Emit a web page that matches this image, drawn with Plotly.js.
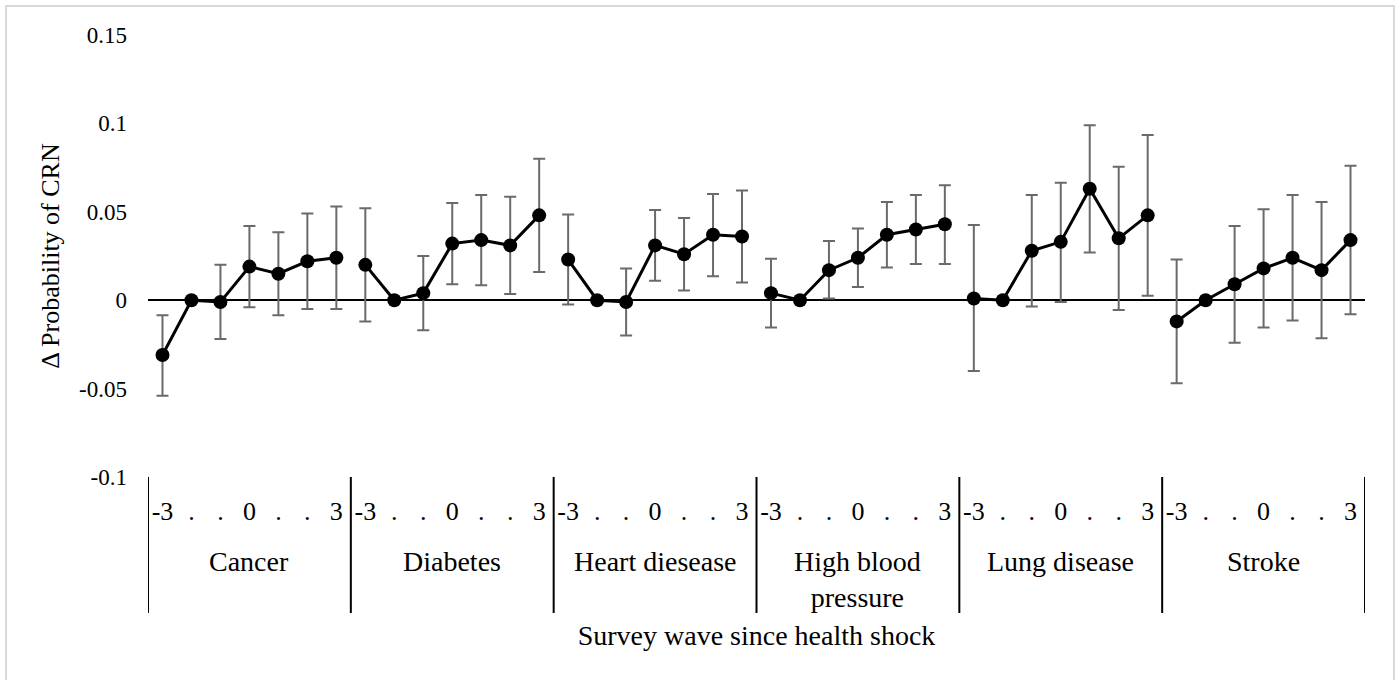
<!DOCTYPE html>
<html>
<head>
<meta charset="utf-8">
<script src="https://cdn.plot.ly/plotly-3.0.1.min.js"></script>
<style>
  html, body { margin: 0; padding: 0; background: #ffffff; }
  #chart { width: 1400px; height: 680px; }
  #frame { position: absolute; left: 5px; top: 5px; width: 1386px; height: 700px;
           border: 2px solid #d9d9d9; pointer-events: none; }
</style>
</head>
<body>
<div id="chart"></div>
<div id="frame"></div>
<script>
// ---- Data ----
const diseases = ['Cancer', 'Diabetes', 'Heart diesease', 'High blood<br>pressure', 'Lung disease', 'Stroke'];
const waveLabels = ['-3', '.', '.', '0', '.', '.', '3'];
const yTickVals = [-0.1, -0.05, 0, 0.05, 0.1, 0.15];
const yTickText = ['-0.1', '-0.05', '0', '0.05', '0.1', '0.15'];

const cancerEst  = [-0.031, 0, -0.001, 0.019, 0.015, 0.022, 0.024];
const cancerLow  = [-0.054, 0, -0.022, -0.004, -0.0085, -0.005, -0.005];
const cancerHigh = [-0.0085, 0, 0.020, 0.042, 0.0385, 0.049, 0.053];

const diabetesEst  = [0.020, 0, 0.004, 0.032, 0.034, 0.031, 0.048];
const diabetesLow  = [-0.012, 0, -0.017, 0.009, 0.0085, 0.0035, 0.016];
const diabetesHigh = [0.052, 0, 0.025, 0.055, 0.0595, 0.0585, 0.080];

const heartEst  = [0.023, 0, -0.001, 0.031, 0.026, 0.037, 0.036];
const heartLow  = [-0.0025, 0, -0.020, 0.011, 0.0055, 0.0135, 0.010];
const heartHigh = [0.0485, 0, 0.018, 0.051, 0.0465, 0.060, 0.062];

const hbpEst  = [0.004, 0, 0.017, 0.024, 0.037, 0.040, 0.043];
const hbpLow  = [-0.0155, 0, 0.001, 0.0075, 0.0185, 0.0205, 0.0205];
const hbpHigh = [0.0235, 0, 0.0335, 0.0405, 0.0555, 0.0595, 0.065];

const lungEst  = [0.001, 0, 0.028, 0.033, 0.063, 0.035, 0.048];
const lungLow  = [-0.040, 0, -0.0035, -0.001, 0.027, -0.0055, 0.0025];
const lungHigh = [0.0425, 0, 0.0595, 0.0665, 0.099, 0.0755, 0.0935];

const strokeEst  = [-0.012, 0, 0.009, 0.018, 0.024, 0.017, 0.034];
const strokeLow  = [-0.047, 0, -0.024, -0.0155, -0.0115, -0.0215, -0.008];
const strokeHigh = [0.023, 0, 0.042, 0.0515, 0.0595, 0.0555, 0.076];

const estimates = [cancerEst, diabetesEst, heartEst, hbpEst, lungEst, strokeEst];
const lows = [cancerLow, diabetesLow, heartLow, hbpLow, lungLow, strokeLow];
const highs = [cancerHigh, diabetesHigh, heartHigh, hbpHigh, lungHigh, strokeHigh];

// ---- Build traces ----
const nWaves = waveLabels.length;
const FONT = "'Liberation Serif', 'Times New Roman', Times, serif";
const traces = estimates.map((est, g) => ({
  type: 'scatter',
  mode: 'lines+markers',
  x: est.map((_, k) => g * nWaves + k),
  y: est,
  line: { color: '#000000', width: 3 },
  marker: { color: '#000000', size: 14 },
  error_y: {
    type: 'data',
    symmetric: false,
    array: est.map((v, k) => highs[g][k] - v),
    arrayminus: est.map((v, k) => v - lows[g][k]),
    color: '#6a6a6a',
    thickness: 2,
    width: 6
  },
  showlegend: false,
  hoverinfo: 'skip'
}));

const allTickVals = [];
const allTickText = [];
diseases.forEach((d, g) => waveLabels.forEach((t, k) => {
  allTickVals.push(g * nWaves + k);
  allTickText.push(t);
}));

const plotBottom = 477, plotTop = 35, plotH = plotBottom - plotTop;
const shapes = [];
for (let g = 0; g <= diseases.length; g++) {
  shapes.push({
    type: 'line', xref: 'x', yref: 'paper',
    x0: g * nWaves - 0.5, x1: g * nWaves - 0.5,
    y0: 0, y1: -(613 - plotBottom) / plotH,
    line: { color: '#000000', width: 2 }
  });
}

const annotations = diseases.map((d, g) => ({
  xref: 'x', yref: 'paper',
  x: g * nWaves + (nWaves - 1) / 2,
  y: -(544 - plotBottom) / plotH,
  yanchor: 'top', xanchor: 'center',
  text: d, showarrow: false,
  font: { family: FONT, size: 28, color: '#000000' }
}));

const layout = {
  width: 1400, height: 680,
  paper_bgcolor: '#ffffff', plot_bgcolor: '#ffffff',
  margin: { l: 148, r: 35, t: plotTop, b: 680 - plotBottom, pad: 0 },
  font: { family: FONT, color: '#000000' },
  xaxis: {
    range: [-0.5, diseases.length * nWaves - 0.5],
    showgrid: false, zeroline: false, showline: false,
    tickmode: 'array', tickvals: allTickVals, ticktext: allTickText,
    ticks: '', tickfont: { family: FONT, size: 26, color: '#000000' },
    ticklabelstandoff: 16,
    title: { text: 'Survey wave since health shock', font: { family: FONT, size: 28, color: '#000000' }, standoff: 100 },
    automargin: false
  },
  yaxis: {
    range: [-0.1, 0.15],
    showgrid: false, showline: false,
    zeroline: true, zerolinecolor: '#000000', zerolinewidth: 1.5,
    tickmode: 'array', tickvals: yTickVals, ticktext: yTickText,
    ticks: '', tickfont: { family: FONT, size: 23, color: '#000000' },
    ticklabelstandoff: 20,
    title: { text: 'Δ Probability of CRN', font: { family: FONT, size: 26, color: '#000000' }, standoff: 11 },
    automargin: false
  },
  shapes: shapes,
  annotations: annotations
};

Plotly.newPlot('chart', traces, layout, { staticPlot: true, displayModeBar: false });
</script>
</body>
</html>
